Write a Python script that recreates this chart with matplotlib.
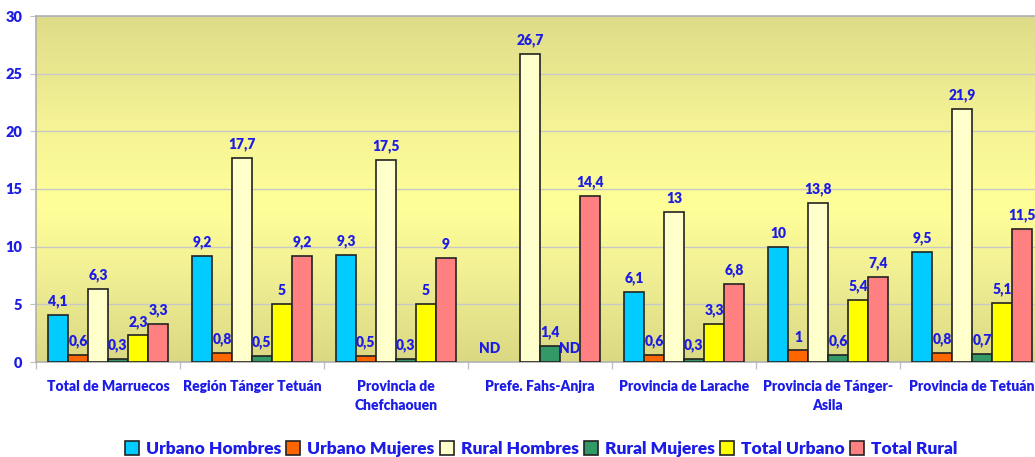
import matplotlib.pyplot as plt
import numpy as np
from matplotlib.colors import LinearSegmentedColormap
from matplotlib.patches import Patch

# data
categories = ['Total de Marruecos', 'Región Tánger Tetuán', 'Provincia de\nChefchaouen',
              'Prefe. Fahs-Anjra', 'Provincia de Larache', 'Provincia de Tánger-\nAsila',
              'Provincia de Tetuán']
series_names = ['Urbano Hombres', 'Urbano Mujeres', 'Rural Hombres',
                'Rural Mujeres', 'Total Urbano', 'Total Rural']
urbano_hombres = [4.1, 9.2, 9.3, None, 6.1, 10, 9.5]
urbano_mujeres = [0.6, 0.8, 0.5, None, 0.6, 1, 0.8]
rural_hombres = [6.3, 17.7, 17.5, 26.7, 13, 13.8, 21.9]
rural_mujeres = [0.3, 0.5, 0.3, 1.4, 0.3, 0.6, 0.7]
total_urbano = [2.3, 5, 5, None, 3.3, 5.4, 5.1]
total_rural = [3.3, 9.2, 9, 14.4, 6.8, 7.4, 11.5]
# missing values that the chart marks as "ND" (series index, category index)
nd_marks = [(0, 3), (4, 3)]

series = [urbano_hombres, urbano_mujeres, rural_hombres, rural_mujeres, total_urbano, total_rural]
colors = ['#00CCFF', '#FF6600', '#FFFFCC', '#339966', '#FFFF00', '#FF8080']
blue = '#1C1CE6'
WEIGHT = 'heavy'

plt.rcParams['font.family'] = ['Lato', 'DejaVu Sans']
plt.rcParams['font.weight'] = WEIGHT

fig = plt.figure(figsize=(10.35, 4.57), dpi=100)
ax = fig.add_axes([36 / 1035, 95 / 457, 1008 / 1035, 346 / 457])

# background gradient of the plot area
cmap = LinearSegmentedColormap.from_list(
    'bg', [(0, '#DEDC88'), (0.3, '#F4F295'), (0.55, '#FFFF99'), (0.75, '#F1EF94'), (1, '#DAD882')])
grad = np.linspace(0, 1, 256).reshape(-1, 1)
ax.imshow(grad, cmap=cmap, aspect='auto', extent=[0, 1, 0, 1],
          transform=ax.transAxes, zorder=0)

n = len(categories)
bar_w = 20 / 144
x = np.arange(n)
for i, (vals, col) in enumerate(zip(series, colors)):
    pos = x + (i - 2.5) * bar_w
    heights = [v if v is not None else 0 for v in vals]
    bars = ax.bar(pos, heights, width=bar_w, color=col, edgecolor='#222222',
                  linewidth=1.2, zorder=3)
    for j, v in enumerate(vals):
        if v is None:
            bars[j].set_visible(False)
            if (i, j) in nd_marks:
                ax.annotate('ND', (pos[j], 0), xytext=(0, 5), textcoords='offset points',
                            ha='center', va='bottom', color=blue, fontsize=10,
                            fontweight=WEIGHT, zorder=5)
            continue
        txt = f'{v:g}'.replace('.', ',')
        ax.annotate(txt, (pos[j], v), xytext=(0, 5), textcoords='offset points',
                    ha='center', va='bottom', color=blue, fontsize=10,
                    fontweight=WEIGHT, zorder=5)

ax.set_xlim(-0.5, n - 0.5)
ax.set_ylim(0, 30)
ax.set_yticks(range(0, 31, 5))
ax.yaxis.grid(True, color='#C8C8C8', linewidth=1, zorder=1)
ax.set_axisbelow(True)

ax.set_xticks(np.arange(-0.5, n, 1))
ax.set_xticklabels([])
ax.set_xticks(x, minor=True)
ax.set_xticklabels(categories, minor=True, linespacing=1.5)
ax.tick_params(axis='x', which='major', length=5, color='#C0C0C0', width=1)
ax.tick_params(axis='x', which='minor', length=0, pad=13, labelcolor=blue, labelsize=10)
ax.tick_params(axis='y', length=4, color='#C0C0C0', labelcolor=blue, labelsize=10.5, pad=6)

for s in ['top', 'left', 'bottom']:
    ax.spines[s].set_color('#B0B0B0')
    ax.spines[s].set_linewidth(1.2)
ax.spines['right'].set_visible(False)

handles = [Patch(facecolor=c, edgecolor='#222222', linewidth=1.2) for c in colors]
leg = fig.legend(handles, series_names, loc='center', bbox_to_anchor=(541 / 1035, 1 - 449 / 457),
                 ncol=6, frameon=False, fontsize=12.5, handlelength=0.8, handleheight=0.8,
                 handletextpad=0.4, columnspacing=0.3)
for t in leg.get_texts():
    t.set_color(blue)
    t.set_fontweight(WEIGHT)

fig.savefig('out.png', dpi=100)
